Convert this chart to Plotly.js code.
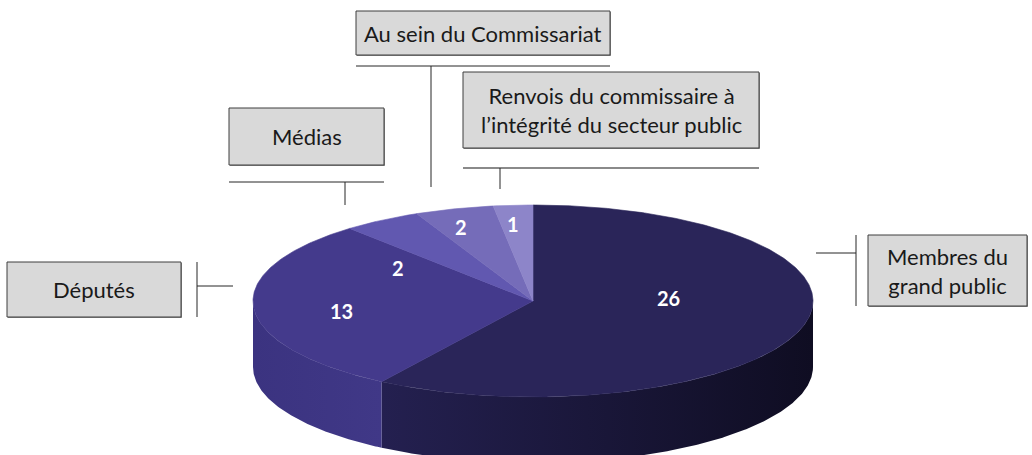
<!DOCTYPE html>
<html><head><meta charset="utf-8">
<script src="https://cdn.plot.ly/plotly-3.0.1.min.js"></script>
<style>html,body{margin:0;padding:0;background:#fff;} #chart{width:1032px;height:455px;}</style>
</head><body><div id="chart"></div>
<script>
// ---- data ----
const categories = ["Membres du grand public", "Députés", "Médias", "Au sein du Commissariat", "Renvois du commissaire à l’intégrité du secteur public"];
const boxLabels = ["Membres du<br>grand public", "Députés", "Médias", "Au sein du Commissariat", "Renvois du commissaire à<br>l’intégrité du secteur public"];
const values = [26, 13, 2, 2, 1];

// ---- styles ----
const topColors = ["#2a2559", "#443a8c", "#6158b0", "#756cb9", "#8d85c9"];
const sideColors = [["#242050", "#0f0d22"], ["#3b3380", "#403887"], ["#5850a4", "#5850a4"], ["#6a62aa", "#6a62aa"], ["#8078bb", "#8078bb"]];

// ---- layout geometry (pixels) ----
const W = 1032, H = 455;
const CX = 533, CY = 301, RX = 280, RY = 96, DEPTH = 66;
const labelPos = [[668, 298], [341, 311], [398, 268], [461, 227], [513, 224]];
const boxes = [
  {x0: 868, x1: 1027, y0: 235, y1: 306},
  {x0: 7, x1: 181, y0: 262, y1: 317},
  {x0: 229, x1: 384, y0: 108, y1: 165},
  {x0: 356, x1: 610, y0: 11, y1: 55},
  {x0: 463, x1: 759, y0: 72, y1: 148}
];
const leaders = [
  [[856, 235, 856, 306], [816, 253, 856, 253]],
  [[197, 262, 197, 317], [197, 286, 233, 286]],
  [[229, 182, 384, 182], [345, 182, 345, 205]],
  [[356, 66, 610, 66], [431, 66, 431, 187]],
  [[463, 168, 759, 168, '#8a8a8a', 2], [500, 168, 500, 189]]
];

const total = values.reduce((a, b) => a + b, 0);
function pt(deg, dy) {
  const r = deg * Math.PI / 180;
  return [CX + RX * Math.cos(r), CY - RY * Math.sin(r) + (dy || 0)];
}
function arc(a, b, dy) {
  const n = Math.max(2, Math.ceil(Math.abs(b - a) / 0.5));
  const out = [];
  for (let k = 0; k <= n; k++) out.push(pt(a + (b - a) * k / n, dy));
  return out;
}

let start = 90;
const slices = values.map(v => {
  const sweep = v / total * 360;
  const s = {a0: start, a1: start - sweep};
  start -= sweep;
  return s;
});

const traces = [];
// side faces (front half: angles -180..0)
slices.forEach((s, i) => {
  const lo = Math.max(s.a1, -180), hi = Math.min(s.a0, 0);
  if (lo >= hi) return;
  const topEdge = arc(hi, lo, 0);
  const botEdge = arc(lo, hi, DEPTH);
  const p = topEdge.concat(botEdge);
  p.push(p[0]);
  traces.push({
    type: 'scatter', mode: 'lines',
    x: p.map(q => q[0]), y: p.map(q => q[1]),
    fill: 'toself',
    fillcolor: sideColors[i][0],
    fillgradient: {type: 'horizontal', colorscale: [[0, sideColors[i][0]], [1, sideColors[i][1]]]},
    line: {width: 0, color: sideColors[i][0]},
    hoverinfo: 'skip', showlegend: false
  });
});
// top faces
slices.forEach((s, i) => {
  const p = [[CX, CY]].concat(arc(s.a0, s.a1, 0));
  p.push([CX, CY]);
  traces.push({
    type: 'scatter', mode: 'lines',
    x: p.map(q => q[0]), y: p.map(q => q[1]),
    fill: 'toself', fillcolor: topColors[i],
    line: {width: 0.6, color: topColors[i]},
    name: categories[i],
    hoverinfo: 'skip', showlegend: false
  });
});

const annotations = [];
values.forEach((v, i) => {
  annotations.push({
    x: labelPos[i][0], y: labelPos[i][1], xref: 'x', yref: 'y',
    text: '<b>' + v + '</b>', showarrow: false,
    font: {family: 'Lato, "Open Sans", sans-serif', size: 20, color: '#ffffff'},
    xanchor: 'center', yanchor: 'middle'
  });
});
const shapes = [];
boxes.forEach((b, i) => {
  shapes.push({type: 'rect', xref: 'x', yref: 'y', x0: b.x0 + 1, x1: b.x1 + 1, y0: b.y0 + 1, y1: b.y1 + 1,
    fillcolor: '#8c8c8c', line: {width: 0}});
  shapes.push({type: 'rect', xref: 'x', yref: 'y', x0: b.x0, x1: b.x1, y0: b.y0, y1: b.y1,
    fillcolor: '#d9d9d9', line: {color: '#3f3f3f', width: 1}});
  annotations.push({
    x: (b.x0 + b.x1) / 2, y: (b.y0 + b.y1) / 2, xref: 'x', yref: 'y',
    text: boxLabels[i], showarrow: false,
    font: {family: 'Lato, "Open Sans", sans-serif', size: 22, color: '#1a1a1a'},
    xanchor: 'center', yanchor: 'middle', align: 'center'
  });
  leaders[i].forEach(l => {
    shapes.push({type: 'line', xref: 'x', yref: 'y', x0: l[0], y0: l[1], x1: l[2], y1: l[3],
      line: {color: l[4] || '#262626', width: l[5] || 1}});
  });
});

const layout = {
  width: W, height: H,
  margin: {l: 0, r: 0, t: 0, b: 0, pad: 0},
  paper_bgcolor: '#ffffff', plot_bgcolor: '#ffffff',
  xaxis: {range: [0, W], visible: false, fixedrange: true},
  yaxis: {range: [H, 0], visible: false, fixedrange: true},
  showlegend: false,
  shapes: shapes,
  annotations: annotations
};
Plotly.newPlot('chart', traces, layout, {staticPlot: true, displayModeBar: false});
</script>
</body></html>
